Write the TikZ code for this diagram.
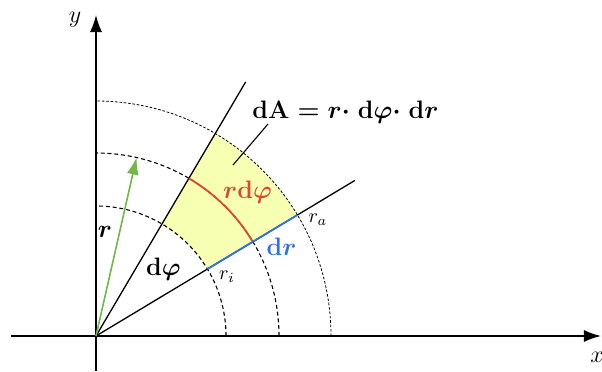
\documentclass[tikz,border=0pt]{standalone}
\usepackage{amsmath}
\usepackage{graphicx}
\usetikzlibrary{arrows.meta}
\definecolor{fillyel}{RGB}{246,255,178}
\definecolor{myred}{RGB}{222,72,48}
\definecolor{myblue}{RGB}{48,112,232}
\definecolor{mygreen}{RGB}{112,184,72}
\newcommand{\bigtxt}[1]{\scalebox{1.05}{#1}}
\tikzset{
  axis/.style={line width=0.8pt,-{Latex[length=8.5pt,width=6pt]}},
  ray/.style={line width=0.65pt},
  arcA/.style={line width=0.55pt,dash pattern=on 2pt off 1.4pt},
  arcB/.style={line width=0.4pt,dash pattern=on 1.3pt off 0.9pt},
  lbl/.style={inner sep=0pt,font=\large\boldmath},
  plain/.style={inner sep=0pt,font=\large},
  sub/.style={inner sep=0pt,font=\normalsize},
}
\begin{document}
\begin{tikzpicture}[x=0.5pt,y=0.5pt]
\useasboundingbox (0,0) rectangle (602,371);
\coordinate (O) at (96,35);
% fill
\fill[fillyel] ([shift={(31:130)}]O) arc[start angle=31,end angle=59.5,radius=130]
  -- ([shift={(59.5:235)}]O) arc[start angle=59.5,end angle=31,radius=235] -- cycle;
% arcs
\draw[arcA] ([shift={(0:130)}]O) arc[start angle=0,end angle=90,radius=130];
\draw[arcA] ([shift={(0:183)}]O) arc[start angle=0,end angle=90,radius=183];
\draw[arcB] ([shift={(0:235)}]O) arc[start angle=0,end angle=90,radius=235];
% axes
\coordinate (xl) at (11,35);
\coordinate (xr) at (601,35);
\coordinate (yb) at (96,0);
\coordinate (yt) at (96,356);
\draw[axis] (xl) -- (xr);
\draw[axis] (yb) -- (yt);
% rays
\path (O) ++(31:302) coordinate (R1);
\path (O) ++(59.5:295) coordinate (R2);
\draw[ray] (O) -- (R1);
\draw[ray] (O) -- (R2);
% red arc & blue segment
\draw[myred,line width=0.9pt] ([shift={(31:183)}]O) arc[start angle=31,end angle=59.5,radius=183];
\path (O) ++(31:130) coordinate (Ri);
\path (O) ++(31:235) coordinate (Ra);
\draw[myblue,line width=0.9pt] (Ri) -- (Ra);
% green arrow
\path (O) ++(77.2:183) coordinate (G);
\draw[mygreen,line width=0.8pt,-{Latex[length=8.5pt,width=6pt]}] (O) -- (G);
% leader
\coordinate (L1) at (268,247);
\coordinate (L2) at (233,206);
\draw[line width=0.55pt] (L1) -- (L2);
% labels
\node[lbl,anchor=base west] (eqn) at (252,253) {\bigtxt{$\mathrm{dA}=r{\cdot}\;\mathrm{d}\varphi{\cdot}\;\mathrm{d}r$}};
\node[lbl,anchor=base,text=myred] (rdphi) at (247.5,173) {\bigtxt{$r\mathrm{d}\varphi$}};
\node[lbl,anchor=base,text=myblue] (drlab) at (281.5,116) {\bigtxt{$\mathrm{d}r$}};
\node[lbl,anchor=base] (dphi) at (163.5,96) {\bigtxt{$\mathrm{d}\varphi$}};
\node[lbl] (rlab) at (105,139) {\bigtxt{$r$}};
\node[sub] (ralab) at (318,151) {$r_a$};
\node[sub] (rilab) at (227,94) {$r_i$};
\node[plain] (ylab) at (75,351) {$y$};
\node[plain] (xlab) at (597,14) {$x$};
\end{tikzpicture}
\end{document}
